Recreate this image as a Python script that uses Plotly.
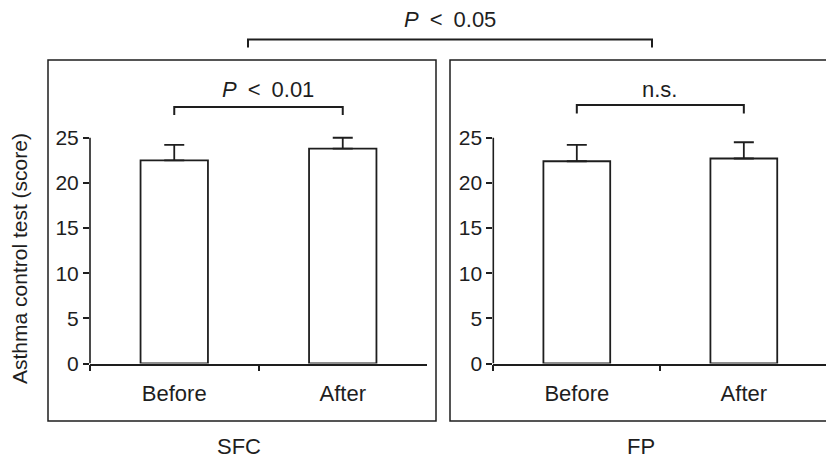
import plotly.graph_objects as go

# ---- data ----
categories = ["Before", "After"]
sfc_values = [22.5, 23.8]
sfc_err = [1.7, 1.2]
fp_values = [22.4, 22.7]
fp_err = [1.8, 1.8]
panel_labels = ["SFC", "FP"]
y_ticks = [0, 5, 10, 15, 20, 25]
y_title = "Asthma control test (score)"
inner_tests = ["<i>P</i>\u2002<\u20020.01", "n.s."]
outer_test = "<i>P</i>\u2002<\u20020.05"

W, H = 826, 460
INK = "#1e1e1e"
FONT = "Liberation Sans, Arial, Helvetica, sans-serif"


def px(xp):
    return xp / W


def py(yp):
    return 1 - yp / H


fig = go.Figure()

for i, (vals, errs) in enumerate([(sfc_values, sfc_err), (fp_values, fp_err)]):
    ax = "" if i == 0 else "2"
    fig.add_trace(go.Bar(
        x=categories, y=vals,
        xaxis="x" + ax, yaxis="y" + ax,
        width=0.4,
        marker=dict(color="white", line=dict(color=INK, width=1.8)),
        error_y=dict(type="data", array=errs, arrayminus=[0] * len(errs),
                     symmetric=False, color=INK, thickness=1.8, width=10),
        showlegend=False, hoverinfo="skip",
    ))

y0_px = 363.5
unit_px = 9.03
ymax = 26
dom_y = [py(y0_px), py(y0_px - ymax * unit_px)]

xfont = dict(family=FONT, size=22, color=INK)
yfont = dict(family=FONT, size=21, color=INK)


def xaxis_cfg(domain, rng, anchor):
    return dict(domain=domain, range=rng, type="category", automargin=False,
                showgrid=False, zeroline=False, color=INK,
                showline=True, linecolor=INK, linewidth=1.6,
                ticks="outside", ticklen=6, tickwidth=1.5, tickcolor=INK,
                tickson="boundaries", ticklabelstandoff=9,
                anchor=anchor, tickfont=xfont)


def yaxis_cfg(anchor):
    return dict(domain=dom_y, range=[0, ymax], anchor=anchor, automargin=False,
                showgrid=False, zeroline=False, color=INK,
                showline=False, tickvals=y_ticks,
                ticks="outside", ticklen=6, tickwidth=1.5, tickcolor=INK,
                tickfont=yfont)


fig.update_layout(
    width=W, height=H,
    margin=dict(l=0, r=0, t=0, b=0, autoexpand=False),
    paper_bgcolor="white", plot_bgcolor="white",
    font=dict(family=FONT, color=INK),
    xaxis=xaxis_cfg([px(90), px(427)], [-0.5, 1.5], "y"),
    yaxis=yaxis_cfg("x"),
    xaxis2=xaxis_cfg([px(493.3), 1.0], [-0.5, 1.492], "y2"),
    yaxis2=yaxis_cfg("x2"),
)

shapes = []
# y axis lines up to the top tick
for ax in ["", "2"]:
    shapes.append(dict(type="line", xref="x" + ax + " domain", yref="y" + ax,
                       x0=0, x1=0, y0=0, y1=max(y_ticks),
                       line=dict(color=INK, width=1.6)))
# panel boxes
shapes.append(dict(type="rect", xref="paper", yref="paper",
                   x0=px(48), x1=px(436), y0=py(421), y1=py(60),
                   line=dict(color=INK, width=1.5)))
shapes.append(dict(type="rect", xref="paper", yref="paper",
                   x0=px(450), x1=px(840), y0=py(421), y1=py(60),
                   line=dict(color=INK, width=1.5)))
# inner brackets
for ax, yb, yt in [("", 107, 115), ("2", 105, 113.5)]:
    shapes.append(dict(type="path", xref="x" + ax, yref="paper",
                       path=f"M 0,{py(yt)} L 0,{py(yb)} L 1,{py(yb)} L 1,{py(yt)}",
                       line=dict(color=INK, width=2)))
# outer bracket
shapes.append(dict(type="path", xref="paper", yref="paper",
                   path=f"M {px(248)},{py(47.5)} L {px(248)},{py(39.5)} L {px(652)},{py(39.5)} L {px(652)},{py(47.5)}",
                   line=dict(color=INK, width=2)))
fig.update_layout(shapes=shapes)

annotations = [
    dict(text=y_title, x=px(19), y=py(259), xref="paper", yref="paper",
         textangle=-90, showarrow=False, xanchor="center", yanchor="middle",
         font=dict(family=FONT, size=21, color=INK)),
    dict(text=panel_labels[0], x=px(238.5), y=py(446.5), xref="paper", yref="paper",
         showarrow=False, xanchor="center", yanchor="middle",
         font=dict(family=FONT, size=22, color=INK)),
    dict(text=panel_labels[1], x=px(641), y=py(446.5), xref="paper", yref="paper",
         showarrow=False, xanchor="center", yanchor="middle",
         font=dict(family=FONT, size=22, color=INK)),
    dict(text=inner_tests[0], x=px(268), y=py(89), xref="paper", yref="paper",
         showarrow=False, xanchor="center", yanchor="middle",
         font=dict(family=FONT, size=22, color=INK)),
    dict(text=inner_tests[1], x=px(659), y=py(89), xref="paper", yref="paper",
         showarrow=False, xanchor="center", yanchor="middle",
         font=dict(family=FONT, size=22, color=INK)),
    dict(text=outer_test, x=px(450), y=py(20), xref="paper", yref="paper",
         showarrow=False, xanchor="center", yanchor="middle",
         font=dict(family=FONT, size=22, color=INK)),
]
fig.update_layout(annotations=annotations)

fig.write_html("out.html")
